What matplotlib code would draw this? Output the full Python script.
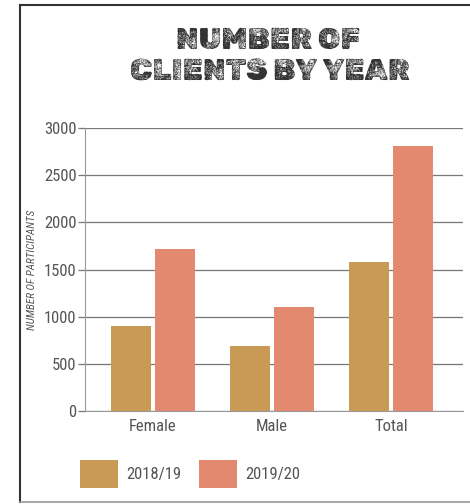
import matplotlib
matplotlib.use("Agg")
import matplotlib.pyplot as plt
import numpy as np
from matplotlib.lines import Line2D

categories = ["Female", "Male", "Total"]
series_names = ["2018/19", "2019/20"]
values_1819 = [900, 690, 1580]
values_1920 = [1720, 1100, 2810]
yticks = [0, 500, 1000, 1500, 2000, 2500, 3000]

GOLD = "#C99A55"
SALMON = "#E2896F"
TXT = "#555555"
FONT = ["Roboto Condensed", "DejaVu Sans"]
TITLE_FONT = ["Rubik Dirt", "DejaVu Sans"]

fig = plt.figure(figsize=(4.70, 5.04), dpi=100)
ax = fig.add_axes([85/470, 1-411/504, (463-85)/470, (411-128)/504])

x = np.arange(len(categories))
w = 0.336
b1 = ax.bar(x - 0.183, values_1819, w, color=GOLD, label=series_names[0], zorder=3)
b2 = ax.bar(x + 0.183, values_1920, w, color=SALMON, label=series_names[1], zorder=3)

ax.set_xlim(-0.571, 2.605)
ax.set_ylim(0, 3000)
ax.set_yticks(yticks)
ax.set_yticklabels([str(v) for v in yticks], fontfamily=FONT, fontsize=12, color=TXT)
ax.set_xticks(x)
ax.set_xticklabels(categories, fontfamily=FONT, fontsize=12, color=TXT)
ax.tick_params(axis="x", length=0, pad=6)
ax.tick_params(axis="y", length=5, width=0.9, color="#777777", pad=1)
ax.grid(axis="y", color="#777777", linewidth=0.9, zorder=0)
for s in ["top", "right"]:
    ax.spines[s].set_visible(False)
ax.spines["left"].set_color("#999999")
ax.spines["bottom"].set_color("#999999")
ax.set_ylabel("NUMBER OF PARTICIPANTS", fontfamily=FONT, fontsize=8, style="italic",
              color=TXT, labelpad=5)

fig.text(268/470, 1-41/504, "NUMBER OF", ha="center", va="center", fontsize=22,
         color="#333333", fontfamily=TITLE_FONT)
fig.text(270/470, 1-73/504, "CLIENTS BY YEAR", ha="center", va="center", fontsize=22,
         color="#333333", fontfamily=TITLE_FONT)

fig.legend(handles=[b1, b2], labels=series_names, loc="center left",
           bbox_to_anchor=(80/470, 1-474/504), ncol=2, frameon=False,
           prop={"family": FONT, "size": 12}, labelcolor=TXT,
           handlelength=2.25, handleheight=2.2, handletextpad=0.5,
           columnspacing=1.1, borderaxespad=0, borderpad=0)

fig.add_artist(Line2D([20/470, 1], [1-5/504, 1-5/504], color="#333333", lw=1.5, transform=fig.transFigure))
fig.add_artist(Line2D([20/470, 20/470], [0.004, 1-5/504], color="#333333", lw=1.5, transform=fig.transFigure))
fig.add_artist(Line2D([20/470, 1], [0.004, 0.004], color="#999999", lw=1.2, transform=fig.transFigure))

fig.savefig("out.png", dpi=100)
